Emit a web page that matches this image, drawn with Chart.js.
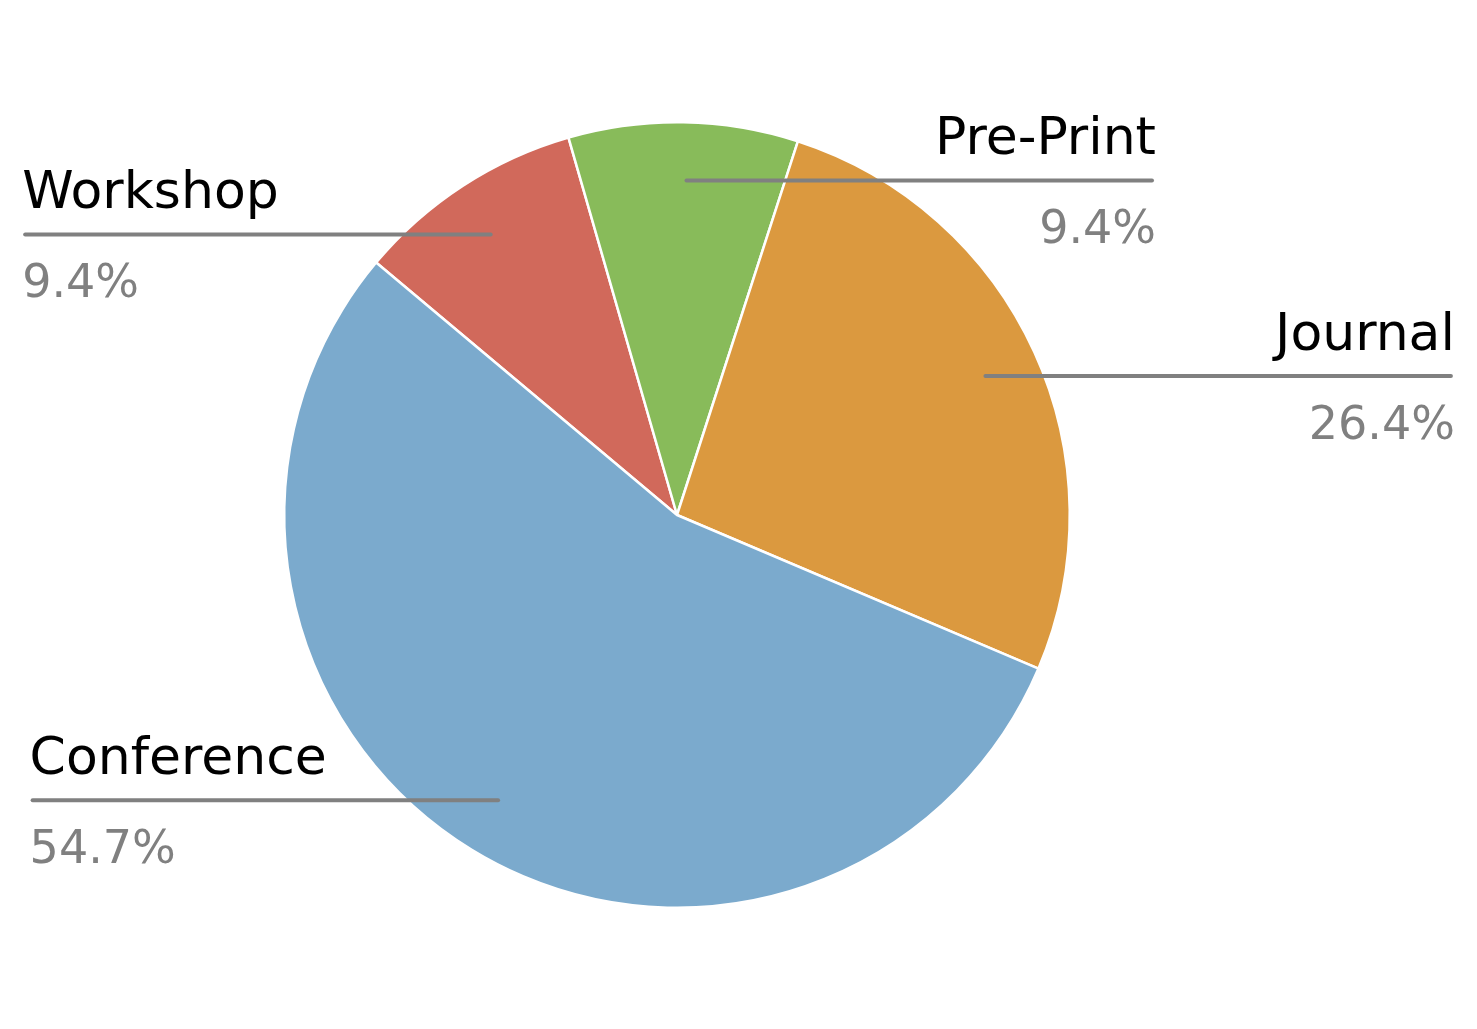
<!DOCTYPE html>
<html>
<head>
<meta charset="utf-8">
<script src="https://cdn.jsdelivr.net/npm/chart.js@4/dist/chart.umd.min.js"></script>
<style>
  html, body { margin: 0; padding: 0; background: #ffffff; }
  #wrap { width: 1477px; height: 1029px; position: relative; }
</style>
</head>
<body>
<div id="wrap"><canvas id="c"></canvas></div>
<script>
// Data (counts per venue type; percentages derived)
const categories = ['Workshop', 'Pre-Print', 'Journal', 'Conference'];
const counts = [10, 10, 28, 58];
const sliceColors = ['#D1695B', '#88BB5A', '#DB993F', '#7BAACD'];

const total = counts.reduce((a, b) => a + b, 0);
const percentLabels = counts.map(v => (v / total * 100).toFixed(1) + '%');

const labelPlugin = {
  id: 'calloutLabels',
  afterDraw(chart) {
    const ctx = chart.ctx;
    const meta = chart.getDatasetMeta(0);
    meta.data.forEach((arc, i) => {
      const p = arc.getProps(['x', 'y', 'startAngle', 'endAngle', 'outerRadius'], true);
      const mid = (p.startAngle + p.endAngle) / 2;
      const r = p.outerRadius * 0.852;
      const ax = p.x + Math.cos(mid) * r;
      const ay = p.y + Math.sin(mid) * r;
      const left = Math.cos(mid) < 0;
      const dir = left ? -1 : 1;
      const sx = ax + dir * 4;
      const ex = ax + dir * 469.5;
      ctx.save();
      ctx.strokeStyle = '#808080';
      ctx.lineWidth = 4;
      ctx.lineCap = 'round';
      ctx.beginPath();
      ctx.moveTo(sx, ay);
      ctx.lineTo(ex, ay);
      ctx.stroke();
      ctx.textBaseline = 'alphabetic';
      ctx.textAlign = left ? 'left' : 'right';
      const tx = left ? ex - 3 : ex + 4;
      ctx.fillStyle = '#000000';
      ctx.font = '52px "DejaVu Sans"';
      ctx.fillText(categories[i], tx, ay - 26);
      ctx.fillStyle = '#808080';
      ctx.font = '46px "DejaVu Sans"';
      ctx.fillText(percentLabels[i], tx, ay + 63);
      ctx.restore();
    });
  }
};

new Chart(document.getElementById('c'), {
  type: 'pie',
  data: {
    labels: categories,
    datasets: [{
      data: counts,
      backgroundColor: sliceColors,
      borderColor: '#ffffff',
      borderWidth: 2.5
    }]
  },
  options: {
    responsive: true,
    maintainAspectRatio: false,
    animation: false,
    rotation: -50,
    layout: { padding: { top: 121, bottom: 120, left: 0, right: 123 } },
    plugins: {
      legend: { display: false },
      tooltip: { enabled: false }
    }
  },
  plugins: [labelPlugin]
});
</script>
</body>
</html>
